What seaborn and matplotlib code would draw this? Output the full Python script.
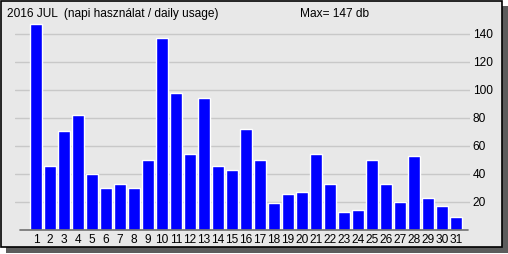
import matplotlib
matplotlib.use("Agg")
import matplotlib.pyplot as plt
import seaborn as sns
import pandas as pd
from matplotlib.patches import Rectangle
from matplotlib import font_manager

days = [str(d) for d in range(1, 32)]
values = [147, 46, 71, 82, 40, 30, 33, 30, 50, 137, 98, 54, 94, 46, 43, 72,
          50, 19, 26, 27, 54, 33, 13, 14, 50, 33, 20, 53, 23, 17, 9]
yticks = [20, 40, 60, 80, 100, 120, 140]
title_text = "2016 JUL  (napi használat / daily usage)"
max_text = "Max= 147 db"

sns.set_theme(style="white")
names = {f.name for f in font_manager.fontManager.ttflist}
narrow = "Liberation Sans Narrow" in names
fam = ['Liberation Sans Narrow', 'DejaVu Sans'] if narrow else ['Liberation Sans', 'DejaVu Sans']
plt.rcParams['font.family'] = fam
fs = 10 if narrow else 8.6

W, H = 508, 254
fig = plt.figure(figsize=(W / 100, H / 100), dpi=100, facecolor="white")

def fx(x):
    return x / W

def fy(y):
    return 1 - y / H

# shadow and frame box
shadow = Rectangle((fx(6), fy(253)), fx(502), 247 / H, transform=fig.transFigure,
                   facecolor="#5c5c5c", edgecolor="none", zorder=-3)
box = Rectangle((fx(0.5), fy(246.5)), fx(501.5), 246 / H, transform=fig.transFigure,
                facecolor="#e8e8e8", edgecolor="black", linewidth=1.2, zorder=-2)
fig.patches.extend([shadow, box])

# axes: x pixels 15..470, y pixels 20..230
ax = fig.add_axes([fx(15), fy(230), fx(470 - 15), (230 - 20) / H])
ax.set_facecolor("none")

df = pd.DataFrame({"day": days, "value": values})
sns.barplot(data=df, x="day", y="value", order=days, color="#0000ff", saturation=1,
            width=0.8, edgecolor="white", linewidth=1.0, ax=ax, zorder=3)

ax.set_xlim(-1.5, 31)
ax.set_ylim(0, 150)
ax.set_xlabel("")
ax.set_ylabel("")

ax.set_yticks(yticks)
ax.set_yticklabels([str(t) for t in yticks])
ax.yaxis.tick_right()
ax.grid(axis="y", color="#c8c8c8", linewidth=1.0, zorder=0)
ax.set_axisbelow(True)
ax.tick_params(axis="y", length=0, pad=2, labelsize=fs, labelcolor="black")
ax.tick_params(axis="x", length=0, pad=3, labelsize=fs, labelcolor="black")

for s in ["top", "right", "left", "bottom"]:
    ax.spines[s].set_visible(False)
ax.axhline(0, xmin=(20 - 15) / 455, xmax=(468 - 15) / 455, color="#707070",
           linewidth=1.2, zorder=4, clip_on=False)

fig.text(fx(7), fy(14), title_text, fontsize=fs, va="center", ha="left", color="black")
fig.text(fx(300), fy(14), max_text, fontsize=fs, va="center", ha="left", color="black")

fig.savefig("out.png", dpi=100, facecolor="white")
